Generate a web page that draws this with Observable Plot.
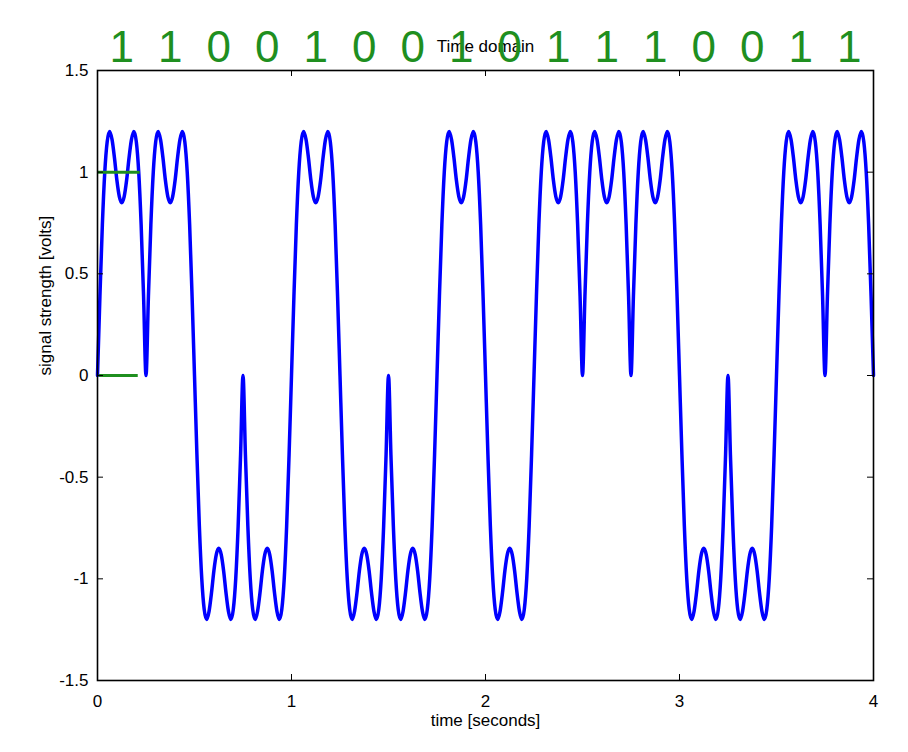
<!DOCTYPE html>
<html><head><meta charset="utf-8">
<script src="https://cdn.jsdelivr.net/npm/d3@7"></script>
<script src="https://cdn.jsdelivr.net/npm/@observablehq/plot@0.6"></script>
<style>body{margin:0;background:#fff}</style>
</head><body><div id="chart"></div>
<script>
// ---- data ----
const bits = [1,1,0,0,1,0,0,1,0,1,1,1,0,0,1,1];
const bitDuration = 0.25;
// one bit's pulse shape (volts) at 21 evenly spaced instants
const pulseShape = [0,0.39,0.74,1.00,1.15,1.20,1.16,1.07,0.96,0.88,0.85,0.88,0.96,1.07,1.16,1.20,1.15,1.00,0.74,0.39,0];
const xTicks = [0,1,2,3,4];
const yTicks = [-1.5,-1,-0.5,0,0.5,1,1.5];
const title = "Time domain";
const xLabel = "time [seconds]";
const yLabel = "signal strength [volts]";
// hand-drawn green level marks
const handLevels = [1, 0];
const handStart = [0, 0.01];
const handEnd = [0.22, 0.21];

// ---- build table ----
const steps = pulseShape.length - 1;
const signal = [];
bits.forEach((b, k) => {
  const s = b ? 1 : -1;
  for (let j = (k === 0 ? 0 : 1); j <= steps; j++) {
    signal.push({t: (k + j / steps) * bitDuration, v: s * pulseShape[j]});
  }
});
const bitLabels = bits.map((b, k) => ({t: (k + 0.5) * bitDuration, label: String(b)}));

const W = 908, H = 752, mL = 97, mR = 35, mT = 70, mB = 72;
const innerH = H - mT - mB, innerW = W - mL - mR;
const green = "#1f8f1f";

const chart = Plot.plot({
  width: W, height: H,
  marginLeft: mL, marginRight: mR, marginTop: mT, marginBottom: mB,
  style: {fontFamily: "'Liberation Sans', Arial, sans-serif", fontSize: "17px", color: "#000", background: "#fff"},
  x: {domain: [0, 4]},
  y: {domain: [-1.5, 1.5]},
  marks: [
    Plot.line(signal, {x: "t", y: "v", stroke: "#0000ff", strokeWidth: 3.5, curve: "monotone-x"}),
    Plot.ruleY(handLevels, {y: d => d, x1: (d, i) => handStart[i], x2: (d, i) => handEnd[i], stroke: green, strokeWidth: 3}),
    Plot.frame({stroke: "#000", strokeWidth: 1.6}),
    Plot.ruleX(xTicks, {x: d => d, insetTop: innerH - 6, stroke: "#000"}),
    Plot.ruleX(xTicks, {x: d => d, insetBottom: innerH - 6, stroke: "#000"}),
    Plot.ruleY(yTicks, {y: d => d, insetRight: innerW - 6, stroke: "#000"}),
    Plot.ruleY(yTicks, {y: d => d, insetLeft: innerW - 6, stroke: "#000"}),
    Plot.axisX(xTicks, {tickSize: 0, tickPadding: 14, tickFormat: d => String(d), label: null}),
    Plot.axisY(yTicks, {tickSize: 0, tickPadding: 9, tickFormat: d => String(d), label: null}),
    Plot.text([xLabel], {text: d => d, frameAnchor: "bottom", dy: 40, lineAnchor: "middle"}),
    Plot.text([yLabel], {text: d => d, frameAnchor: "left", dx: -52, rotate: -90, lineAnchor: "middle"}),
    Plot.text([title], {text: d => d, frameAnchor: "top", dy: -24, lineAnchor: "middle"}),
    Plot.text(bitLabels, {x: "t", text: "label", frameAnchor: "top", dy: -23, lineAnchor: "middle", fill: green, fontSize: 44})
  ]
});
document.getElementById("chart").appendChild(chart);
</script>
</body></html>
